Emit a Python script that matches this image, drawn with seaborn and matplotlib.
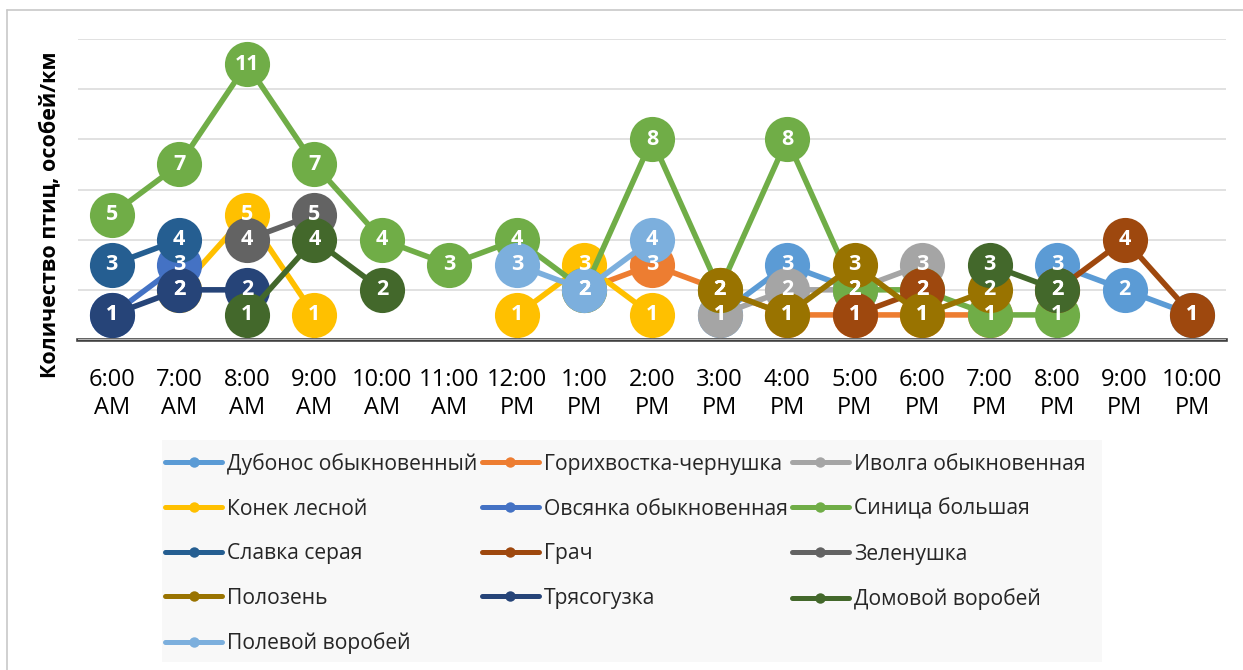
import numpy as np
import pandas as pd
import matplotlib
matplotlib.use("Agg")
import matplotlib.pyplot as plt
from matplotlib.lines import Line2D
from matplotlib.patches import Rectangle
import seaborn as sns

nan = np.nan

# Hour categories (x axis)
hours = ["6:00\nAM", "7:00\nAM", "8:00\nAM", "9:00\nAM", "10:00\nAM", "11:00\nAM",
         "12:00\nPM", "1:00\nPM", "2:00\nPM", "3:00\nPM", "4:00\nPM", "5:00\nPM",
         "6:00\nPM", "7:00\nPM", "8:00\nPM", "9:00\nPM", "10:00\nPM"]

# Birds per km for each species, one value per hour (nan = not recorded)
dubonos     = [nan, nan, nan, nan, nan, nan, nan, nan, nan, 1, 3, 2, nan, nan, 3, 2, 1]
gorikhvostka = [nan, nan, nan, nan, nan, nan, nan, 2, 3, 2, 1, 1, 1, 1, nan, nan, nan]
ivolga      = [nan, nan, nan, nan, nan, nan, nan, nan, nan, 1, 2, 2, 3, nan, nan, nan, nan]
konek       = [nan, 2, 5, 1, nan, nan, 1, 3, 1, nan, nan, nan, nan, nan, nan, nan, nan]
ovsyanka    = [1, 3, nan, nan, nan, nan, nan, nan, nan, nan, nan, nan, nan, nan, nan, nan, nan]
sinitsa     = [5, 7, 11, 7, 4, 3, 4, 2, 8, 2, 8, 2, 2, 1, 1, nan, nan]
slavka      = [3, 4, nan, nan, nan, nan, nan, nan, nan, nan, nan, nan, nan, nan, nan, nan, nan]
grach       = [nan, nan, nan, nan, nan, nan, nan, nan, nan, nan, nan, 1, 2, nan, 2, 4, 1]
zelenushka  = [nan, nan, 4, 5, nan, nan, nan, nan, nan, nan, nan, nan, nan, nan, nan, nan, nan]
polozen     = [nan, nan, nan, nan, nan, nan, nan, nan, nan, 2, 1, 3, 1, 2, nan, nan, nan]
tryasoguzka = [1, 2, 2, nan, nan, nan, nan, nan, nan, nan, nan, nan, nan, nan, nan, nan, nan]
domovoy     = [nan, nan, 1, 4, 2, nan, nan, nan, nan, nan, nan, nan, nan, 3, 2, nan, nan]
polevoy     = [nan, nan, nan, nan, nan, nan, 3, 2, 4, nan, nan, nan, nan, nan, nan, nan, nan]

species = ["Дубонос обыкновенный", "Горихвостка-чернушка", "Иволга обыкновенная",
           "Конек лесной", "Овсянка обыкновенная", "Синица большая",
           "Славка серая", "Грач", "Зеленушка",
           "Полозень", "Трясогузка", "Домовой воробей",
           "Полевой воробей"]
values = [dubonos, gorikhvostka, ivolga, konek, ovsyanka, sinitsa, slavka,
          grach, zelenushka, polozen, tryasoguzka, domovoy, polevoy]
colors = ["#5B9BD5", "#ED7D31", "#A5A5A5", "#FFC000", "#4472C4", "#70AD47",
          "#255E91", "#9E480E", "#636363", "#997300", "#264478", "#43682B",
          "#7CAFDD"]

# Long table; each unbroken run of observations gets its own segment id
rows = []
for name, vals in zip(species, values):
    seg = 0
    prev_ok = False
    for i, v in enumerate(vals):
        ok = not np.isnan(v)
        if ok and not prev_ok:
            seg += 1
        if ok:
            rows.append({"species": name, "hour": i, "count": v, "segment": seg})
        prev_ok = ok
df = pd.DataFrame(rows)

sns.set_theme(style="white")
plt.rcParams["font.family"] = ["Open Sans", "DejaVu Sans"]

fig = plt.figure(figsize=(12.43, 6.70), dpi=100)
ax = fig.add_axes([78 / 1243, 1 - 340 / 670, 1148 / 1243, 301 / 670])

palette = dict(zip(species, colors))
sns.lineplot(data=df, x="hour", y="count", hue="species", units="segment",
             estimator=None, hue_order=species, palette=palette, sort=True,
             marker="o", markersize=32.5, markeredgewidth=0, linewidth=4.0,
             legend=False, ax=ax)

# Value labels on every point
for name, vals in zip(species, values):
    for i, v in enumerate(vals):
        if not np.isnan(v):
            ax.text(i, v, f"{int(v)}", ha="center", va="center", color="white",
                    fontsize=15.5, fontweight="bold", zorder=20)

ax.set_xlim(-0.5, len(hours) - 0.5)
ax.set_ylim(0, 12)
ax.set_yticks(np.arange(0, 13, 2))
ax.set_yticklabels([])
ax.yaxis.grid(True, color="#D9D9D9", linewidth=1.1)
ax.set_axisbelow(True)
ax.set_xticks(range(len(hours)))
ax.set_xticklabels(hours, fontsize=17, color="#000000", linespacing=1.25)
ax.tick_params(axis="x", length=0, pad=20)
ax.tick_params(axis="y", length=0)
for s in ["top", "right", "left"]:
    ax.spines[s].set_visible(False)
ax.spines["bottom"].set_color("#404040")
ax.spines["bottom"].set_linewidth(2.6)
ax.spines["bottom"].set_zorder(0.5)
ax.set_xlabel("")
ax.set_ylabel("Количество птиц, особей/км", fontsize=15.5, fontweight="bold",
              color="#000000")
ax.yaxis.label.set_verticalalignment("center")
ax.yaxis.set_label_coords((49 - 78) / 1148, (340 - 215) / 301)

# Legend background panel
fig.patches.append(Rectangle((162 / 1243, 1 - 662 / 670), 940 / 1243, 222 / 670,
                             transform=fig.transFigure, facecolor="#F8F8F8",
                             edgecolor="none", zorder=0))

handles = [Line2D([0], [0], color=c, linewidth=3.6, marker="o", markersize=7.5,
                  markeredgewidth=0, solid_capstyle="round") for c in colors]
order = [0, 3, 6, 9, 12, 1, 4, 7, 10, 2, 5, 8, 11]
leg = fig.legend([handles[k] for k in order], [species[k] for k in order],
                 ncol=3, loc="upper left",
                 bbox_to_anchor=(165 / 1243, 1 - 453 / 670),
                 frameon=False, fontsize=15.2, handlelength=2.7,
                 handletextpad=0.24, columnspacing=0.2, labelspacing=1.12,
                 borderpad=0.0, borderaxespad=0.0)

# Outer chart frame (top and left edges)
fig.add_artist(Line2D([7 / 1243, 1], [1 - 10 / 670, 1 - 10 / 670],
                      transform=fig.transFigure, color="#C8C8C8", linewidth=1.2))
fig.add_artist(Line2D([7 / 1243, 7 / 1243], [0, 1 - 10 / 670],
                      transform=fig.transFigure, color="#C8C8C8", linewidth=1.2))

fig.savefig("out.png", dpi=100, facecolor="white")
